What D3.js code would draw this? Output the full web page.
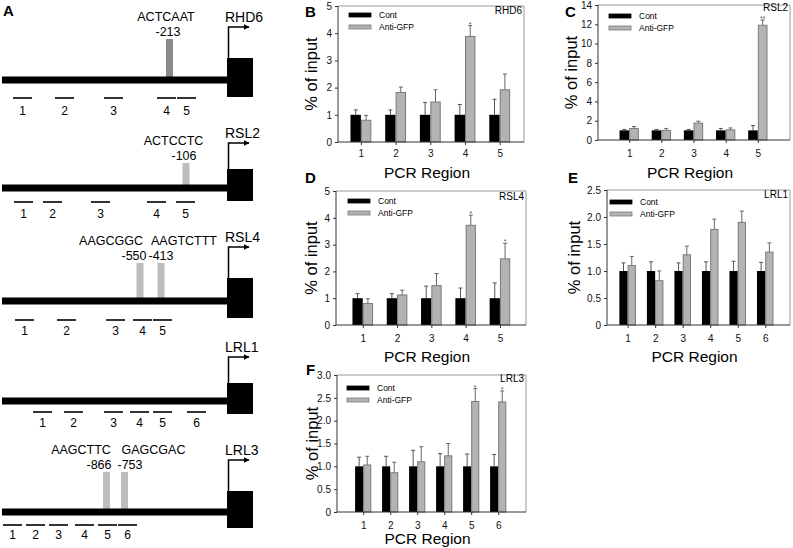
<!DOCTYPE html>
<html><head><meta charset="utf-8">
<script src="https://cdn.jsdelivr.net/npm/d3@7"></script>
<style>
body{margin:0;background:#fff;}
svg{display:block;font-family:"Liberation Sans",Arial,sans-serif;}
</style></head>
<body><svg id="fig" width="793" height="548"></svg>
<script>
// ---------------- DATA ----------------
const regions5 = [1, 2, 3, 4, 5];
const regions6 = [1, 2, 3, 4, 5, 6];
const seriesNames = ["Cont", "Anti-GFP"];

// B: RHD6
const rhd6Cont = [1, 1, 1, 1, 1];
const rhd6ContErr = [0.18, 0.18, 0.45, 0.38, 0.57];
const rhd6Anti = [0.8, 1.82, 1.47, 3.88, 1.92];
const rhd6AntiErr = [0.18, 0.2, 0.45, 0.4, 0.58];
const rhd6Sig = ["", "", "", "*", ""];
const rhd6Ticks = [0, 1, 2, 3, 4, 5];

// C: RSL2
const rsl2Cont = [1, 1, 1, 1, 1];
const rsl2ContErr = [0.1, 0.1, 0.1, 0.2, 0.5];
const rsl2Anti = [1.2, 1.0, 1.75, 1.05, 11.9];
const rsl2AntiErr = [0.2, 0.2, 0.2, 0.2, 0.55];
const rsl2Sig = ["", "", "", "", "**"];
const rsl2Ticks = [0, 2, 4, 6, 8, 10, 12, 14];

// D: RSL4
const rsl4Cont = [1, 1, 1, 1, 1];
const rsl4ContErr = [0.17, 0.17, 0.45, 0.38, 0.57];
const rsl4Anti = [0.8, 1.12, 1.47, 3.72, 2.47];
const rsl4AntiErr = [0.18, 0.18, 0.45, 0.38, 0.58];
const rsl4Sig = ["", "", "", "*", "*"];
const rsl4Ticks = [0, 1, 2, 3, 4, 5];

// E: LRL1
const lrl1Cont = [1, 1, 1, 1, 1, 1];
const lrl1ContErr = [0.15, 0.17, 0.15, 0.17, 0.18, 0.16];
const lrl1Anti = [1.1, 0.82, 1.3, 1.77, 1.9, 1.35];
const lrl1AntiErr = [0.17, 0.18, 0.16, 0.19, 0.21, 0.17];
const lrl1Sig = ["", "", "", "", "", ""];
const lrl1Ticks = [0, 0.5, 1.0, 1.5, 2.0, 2.5];

// F: LRL3
const lrl3Cont = [1, 1, 1, 1, 1, 1];
const lrl3ContErr = [0.2, 0.22, 0.35, 0.28, 0.27, 0.26];
const lrl3Anti = [1.03, 0.86, 1.1, 1.23, 2.42, 2.41];
const lrl3AntiErr = [0.19, 0.23, 0.33, 0.27, 0.28, 0.24];
const lrl3Sig = ["", "", "", "", "*", "*"];
const lrl3Ticks = [0, 0.5, 1.0, 1.5, 2.0, 2.5, 3.0];

// A: promoter diagrams (diagram units along promoter, TSS box at right)
const geneNames = ["RHD6", "RSL2", "RSL4", "LRL1", "LRL3"];
const rhd6Segs = [13, 55, 104, 157, 177];
const rsl2Segs = [14, 43, 91, 147, 176];
const rsl4Segs = [15, 57, 106, 133, 153];
const lrl1Segs = [33, 64, 104, 130, 153, 187];
const lrl3Segs = [3, 26, 49, 75, 98, 118];
const rhd6Motifs = [{seq: "ACTCAAT", pos: "-213", at: 169.5}];
const rsl2Motifs = [{seq: "ACTCCTC", pos: "-106", at: 186}];
const rsl4Motifs = [{seq: "AAGCGGC", pos: "-550", at: 140}, {seq: "AAGTCTTT", pos: "-413", at: 161}];
const lrl1Motifs = [];
const lrl3Motifs = [{seq: "AAGCTTC", pos: "-866", at: 106.5}, {seq: "GAGCGAC", pos: "-753", at: 124.5}];

// ---------------- DRAW ----------------
const svg = d3.select("#fig");
const FONT = "Liberation Sans, Arial, sans-serif";

// ---- Panel A ----
const dx = d3.scaleLinear().domain([0, 250]).range([0, 250]);
const segW = 19;
const genesA = [
  {name: geneNames[0], segs: rhd6Segs, motifs: rhd6Motifs, y: 80, mTop: 39, mColor: "#8a8a8a", arrowUp: 53,
   seqX: [166], seqAnchor: ["middle"], posX: [168], boxTop: -22, boxBot: 17, segDy: 18, labDy: 35},
  {name: geneNames[1], segs: rsl2Segs, motifs: rsl2Motifs, y: 188, mTop: 163, mColor: "#bdbdbd", arrowUp: 45,
   seqX: [173.5], seqAnchor: ["middle"], posX: [184], boxTop: -19, boxBot: 13, segDy: 14, labDy: 30},
  {name: geneNames[2], segs: rsl4Segs, motifs: rsl4Motifs, y: 301, mTop: 263, mColor: "#bdbdbd", arrowUp: 54,
   seqX: [143, 151], seqAnchor: ["end", "start"], posX: [134, 161], boxTop: -23, boxBot: 17, segDy: 19, labDy: 34},
  {name: geneNames[3], segs: lrl1Segs, motifs: lrl1Motifs, y: 401, mTop: 0, mColor: "#bdbdbd", arrowUp: 44,
   seqX: [], seqAnchor: [], posX: [], boxTop: -18, boxBot: 13, segDy: 11, labDy: 26},
  {name: geneNames[4], segs: lrl3Segs, motifs: lrl3Motifs, y: 512, mTop: 472, mColor: "#bdbdbd", arrowUp: 52,
   seqX: [81, 153.5], seqAnchor: ["middle", "middle"], posX: [99, 130], boxTop: -21, boxBot: 16, segDy: 13, labDy: 27}
];
const gA = svg.append("g");
gA.append("text").attr("x", 3).attr("y", 16).attr("font-size", 15).attr("font-weight", "bold")
  .attr("font-family", FONT).text("A");

svg.append("defs").append("marker").attr("id", "ah").attr("viewBox", "0 0 10 10")
  .attr("refX", 9).attr("refY", 5).attr("markerWidth", 6).attr("markerHeight", 6)
  .attr("markerUnits", "userSpaceOnUse").attr("orient", "auto")
  .append("path").attr("d", "M0,0 L10,5 L0,10 Z").attr("fill", "#000");

genesA.forEach(g => {
  const G = gA.append("g");
  g.motifs.forEach((m, i) => {
    G.append("rect").attr("x", dx(m.at) - 3.5).attr("y", g.mTop).attr("width", 7)
      .attr("height", g.y - g.mTop).attr("fill", g.mColor);
    G.append("text").attr("x", g.seqX[i]).attr("y", g.mTop - 18).attr("text-anchor", g.seqAnchor[i])
      .attr("font-size", 12.5).attr("font-family", FONT).text(m.seq);
    G.append("text").attr("x", g.posX[i]).attr("y", g.mTop - 3).attr("text-anchor", "middle")
      .attr("font-size", 12.5).attr("font-family", FONT).text(m.pos);
  });
  G.append("rect").attr("x", dx(2)).attr("y", g.y - 3.5).attr("width", dx(228) - dx(2)).attr("height", 7).attr("fill", "#000");
  G.append("rect").attr("x", dx(227)).attr("y", g.y + g.boxTop).attr("width", 26)
    .attr("height", g.boxBot - g.boxTop).attr("fill", "#000");
  const topY = g.y - g.arrowUp;
  G.append("path").attr("d", `M${dx(228.5)},${g.y + g.boxTop} V${topY} H${dx(249)}`)
    .attr("fill", "none").attr("stroke", "#000").attr("stroke-width", 1.5).attr("marker-end", "url(#ah)");
  G.append("text").attr("x", dx(225)).attr("y", topY - 5).attr("font-size", 14).attr("font-family", FONT)
    .attr("fill", "#000").text(g.name);
  g.segs.forEach((s, i) => {
    G.append("line").attr("x1", dx(s)).attr("x2", dx(s) + segW).attr("y1", g.y + g.segDy).attr("y2", g.y + g.segDy)
      .attr("stroke", "#000").attr("stroke-width", 1.6);
    G.append("text").attr("x", dx(s) + segW / 2).attr("y", g.y + g.labDy).attr("text-anchor", "middle")
      .attr("font-size", 12).attr("font-family", FONT).text(i + 1);
  });
});

// ---- Bar panels ----
const charts = [
  {letter: "B", gene: "RHD6", cats: regions5, cont: rhd6Cont, contErr: rhd6ContErr, anti: rhd6Anti, antiErr: rhd6AntiErr, sig: rhd6Sig, ticks: rhd6Ticks,
   L: 338, R: 524, T: 6, Bm: 142, xd: [0.34, 5.7], tickY: 157, titleY: 178, ylabX: 317, letterY: 17, legDx: 11, legDy: 7, geneDy: 8},
  {letter: "C", gene: "RSL2", cats: regions5, cont: rsl2Cont, contErr: rsl2ContErr, anti: rsl2Anti, antiErr: rsl2AntiErr, sig: rsl2Sig, ticks: rsl2Ticks,
   L: 598, R: 790, T: 5, Bm: 140, xd: [0.03, 6.0], tickY: 157, titleY: 178, ylabX: 577, letterY: 17, legDx: 11, legDy: 9, geneDy: 6},
  {letter: "D", gene: "RSL4", cats: regions5, cont: rsl4Cont, contErr: rsl4ContErr, anti: rsl4Anti, antiErr: rsl4AntiErr, sig: rsl4Sig, ticks: rsl4Ticks,
   L: 336, R: 526, T: 191, Bm: 325, xd: [0.22, 5.76], tickY: 342, titleY: 362, ylabX: 317, letterY: 183, legDx: 12, legDy: 8, geneDy: 9},
  {letter: "E", gene: "LRL1", cats: regions6, cont: lrl1Cont, contErr: lrl1ContErr, anti: lrl1Anti, antiErr: lrl1AntiErr, sig: lrl1Sig, ticks: lrl1Ticks,
   L: 607, R: 790, T: 190, Bm: 325, xd: [0.25, 6.9], tickY: 342, titleY: 362, ylabX: 580, letterY: 183, legDx: 3, legDy: 10, geneDy: 8},
  {letter: "F", gene: "LRL3", cats: regions6, cont: lrl3Cont, contErr: lrl3ContErr, anti: lrl3Anti, antiErr: lrl3AntiErr, sig: lrl3Sig, ticks: lrl3Ticks,
   L: 337, R: 526, T: 375, Bm: 512, xd: [0.03, 7.03], tickY: 529, titleY: 544, ylabX: 318, letterY: 375, legDx: 10, legDy: 11, geneDy: 7}
];

const antiFill = "#b3b3b3", antiStroke = "#7a7a7a";

charts.forEach(c => {
  const G = svg.append("g");
  const yMax = d3.max(c.ticks);
  const x = d3.scaleLinear().domain(c.xd).range([c.L, c.R]);
  const y = d3.scaleLinear().domain([0, yMax]).range([c.Bm, c.T]);
  const unit = x(2) - x(1);
  const bw = unit * 0.3;
  const fmt = d => d === 0 ? "0" : (yMax < 4 ? d3.format(".1f")(d) : d3.format("d")(d));

  G.append("path").attr("d", `M${c.L},${c.T} H${c.R} V${c.Bm}`).attr("fill", "none")
    .attr("stroke", "#9a9a9a").attr("stroke-width", 1);

  c.cats.forEach((k, i) => {
    const xc = x(k);
    const ct = y(c.cont[i] + c.contErr[i]);
    G.append("line").attr("x1", xc - bw / 2).attr("x2", xc - bw / 2)
      .attr("y1", y(c.cont[i])).attr("y2", ct).attr("stroke", "#555").attr("stroke-width", 1);
    G.append("line").attr("x1", xc - bw / 2 - 2).attr("x2", xc - bw / 2 + 2)
      .attr("y1", ct).attr("y2", ct).attr("stroke", "#555").attr("stroke-width", 1);
    G.append("rect").attr("x", xc - bw).attr("y", y(c.cont[i])).attr("width", bw)
      .attr("height", y(0) - y(c.cont[i])).attr("fill", "#000");
    const top = y(c.anti[i] + c.antiErr[i]);
    G.append("line").attr("x1", xc + bw / 2).attr("x2", xc + bw / 2)
      .attr("y1", y(c.anti[i])).attr("y2", top).attr("stroke", "#666").attr("stroke-width", 1);
    G.append("line").attr("x1", xc + bw / 2 - 2).attr("x2", xc + bw / 2 + 2)
      .attr("y1", top).attr("y2", top).attr("stroke", "#666").attr("stroke-width", 1);
    G.append("rect").attr("x", xc + 0.5).attr("y", y(c.anti[i])).attr("width", bw - 1)
      .attr("height", y(0) - y(c.anti[i])).attr("fill", antiFill).attr("stroke", antiStroke).attr("stroke-width", 1);
    if (c.sig[i]) {
      G.append("text").attr("x", xc + bw / 2).attr("y", top + 1).attr("text-anchor", "middle")
        .attr("font-size", 7).attr("fill", "#555").attr("font-family", FONT).text(c.sig[i]);
    }
  });

  const ya = d3.axisLeft(y).tickValues(c.ticks).tickFormat(fmt).tickSize(3).tickPadding(3);
  const yg = G.append("g").attr("transform", `translate(${c.L},0)`).call(ya);
  const xa = d3.axisBottom(x).tickValues(c.cats).tickFormat(d3.format("d")).tickSize(3).tickPadding(6);
  const xg = G.append("g").attr("transform", `translate(0,${c.Bm})`).call(xa);
  [yg, xg].forEach(a => {
    a.select(".domain").attr("stroke", "#333").attr("d", a === yg ? `M0,${c.Bm}V${c.T}` : `M${c.L},0H${c.R}`);
    a.selectAll(".tick line").attr("stroke", "#333");
    a.selectAll("text").attr("font-size", 10).attr("font-family", FONT).attr("fill", "#111");
  });
  xg.selectAll(".tick text").attr("y", null).attr("dy", null)
    .attr("transform", `translate(0,${c.tickY - c.Bm})`);

  const lx = c.L + c.legDx, ly = c.T + c.legDy;
  seriesNames.forEach((s, i) => {
    G.append("rect").attr("x", lx).attr("y", ly + i * 12).attr("width", 22).attr("height", 4)
      .attr("fill", i === 0 ? "#000" : antiFill).attr("stroke", i === 0 ? "#000" : antiStroke).attr("stroke-width", 0.8);
    G.append("text").attr("x", lx + 30).attr("y", ly + i * 12 + 5).attr("font-size", 8.5)
      .attr("font-family", FONT).text(s);
  });
  G.append("text").attr("x", c.R - 2).attr("y", c.T + c.geneDy).attr("text-anchor", "end")
    .attr("font-size", 10).attr("font-family", FONT).text(c.gene);

  G.append("text").attr("transform", `translate(${c.ylabX},${(c.T + c.Bm) / 2}) rotate(-90)`)
    .attr("text-anchor", "middle").attr("font-size", 16.5).attr("font-family", FONT).text("% of input");
  G.append("text").attr("x", (c.L + c.R) / 2 - 4).attr("y", c.titleY).attr("text-anchor", "middle")
    .attr("font-size", 15.5).attr("font-family", FONT).text("PCR Region");
  G.append("text").attr("x", c.ylabX - 12).attr("y", c.letterY).attr("font-size", 15).attr("font-weight", "bold")
    .attr("font-family", FONT).text(c.letter);
});
</script></body></html>
